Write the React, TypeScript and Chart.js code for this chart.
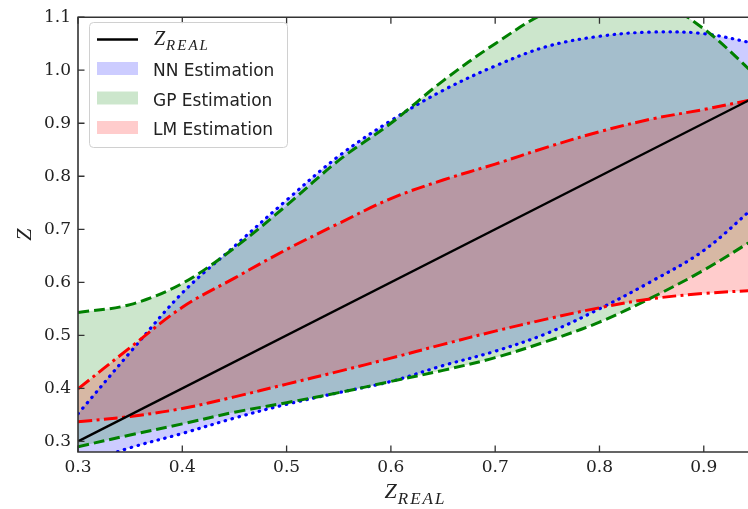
import React, { useEffect, useRef } from "react";
import { Chart, registerables } from "chart.js";

Chart.register(...registerables);

// ---- data ----
const zValues = [0.30, 0.35, 0.40, 0.45, 0.50, 0.55, 0.60, 0.65, 0.70, 0.75, 0.80, 0.85, 0.90, 0.95];

const zRealX = [0.30, 0.95];
const zRealY = [0.30, 0.95];

const nnUpper = [0.352, 0.468, 0.580, 0.668, 0.755, 0.838, 0.905, 0.962, 1.008, 1.045, 1.064, 1.072, 1.069, 1.050];
const nnLower = [0.255, 0.288, 0.315, 0.344, 0.370, 0.392, 0.413, 0.443, 0.470, 0.504, 0.550, 0.602, 0.660, 0.745];

const gpUpper = [0.543, 0.558, 0.598, 0.665, 0.745, 0.830, 0.900, 0.980, 1.050, 1.110, 1.140, 1.135, 1.078, 0.990];
const gpLower = [0.290, 0.312, 0.333, 0.355, 0.373, 0.392, 0.413, 0.434, 0.458, 0.489, 0.525, 0.571, 0.623, 0.683];

const lmUpper = [0.399, 0.477, 0.553, 0.608, 0.662, 0.711, 0.758, 0.793, 0.823, 0.855, 0.884, 0.908, 0.926, 0.946];
const lmLower = [0.337, 0.347, 0.362, 0.384, 0.408, 0.432, 0.457, 0.483, 0.508, 0.531, 0.552, 0.569, 0.579, 0.585];

const xTickValues = [0.3, 0.4, 0.5, 0.6, 0.7, 0.8, 0.9];
const yTickValues = [0.3, 0.4, 0.5, 0.6, 0.7, 0.8, 0.9, 1.0, 1.1];

const xAxisTitleMain = "Z";
const xAxisTitleSub = "REAL";
const yAxisTitle = "Z";
const bandLabels = ["NN Estimation", "GP Estimation", "LM Estimation"];

const X_MIN = 0.3;
const X_MAX = 0.9424;
const Y_MIN = 0.28;
const Y_MAX = 1.1;

const BLUE = "#0000ff";
const GREEN = "#008000";
const RED = "#ff0000";
const BLUE_FILL = "rgba(0,0,255,0.2)";
const GREEN_FILL = "rgba(0,128,0,0.2)";
const RED_FILL = "rgba(255,0,0,0.2)";

const pts = (xs: number[], ys: number[]) => xs.map((x, i) => ({ x, y: ys[i] }));

const decorPlugin = {
  id: "decor",
  afterDraw(chart: any) {
    const { ctx, chartArea: a } = chart;
    const xs = chart.scales.x;
    const ys = chart.scales.y;
    ctx.save();
    // frame
    ctx.strokeStyle = "#333";
    ctx.lineWidth = 1.6;
    ctx.beginPath();
    ctx.moveTo(a.right + 5, a.top);
    ctx.lineTo(a.left, a.top);
    ctx.lineTo(a.left, a.bottom);
    ctx.lineTo(a.right + 5, a.bottom);
    ctx.stroke();
    // inward ticks
    ctx.lineWidth = 1.3;
    ctx.beginPath();
    xTickValues.forEach((v) => {
      const px = xs.getPixelForValue(v);
      ctx.moveTo(px, a.bottom);
      ctx.lineTo(px, a.bottom - 6.5);
      ctx.moveTo(px, a.top);
      ctx.lineTo(px, a.top + 6.5);
    });
    yTickValues.forEach((v) => {
      const py = ys.getPixelForValue(v);
      ctx.moveTo(a.left, py);
      ctx.lineTo(a.left + 6.5, py);
    });
    ctx.stroke();

    // axis titles
    ctx.fillStyle = "#222";
    ctx.textBaseline = "alphabetic";
    const cx = 415;
    ctx.font = "italic 22px 'Liberation Serif'";
    const zW = ctx.measureText(xAxisTitleMain).width;
    ctx.font = "italic 17px 'Liberation Serif'";
    (ctx as any).letterSpacing = "2px";
    const sW = ctx.measureText(xAxisTitleSub).width;
    const startX = cx - (zW + sW) / 2;
    (ctx as any).letterSpacing = "0px";
    ctx.font = "italic 22px 'Liberation Serif'";
    ctx.textAlign = "left";
    ctx.fillText(xAxisTitleMain, startX, 498);
    ctx.font = "italic 17px 'Liberation Serif'";
    (ctx as any).letterSpacing = "2px";
    ctx.fillText(xAxisTitleSub, startX + zW + 1, 504);
    (ctx as any).letterSpacing = "0px";

    ctx.save();
    ctx.translate(25, (a.top + a.bottom) / 2);
    ctx.rotate(-Math.PI / 2);
    ctx.font = "italic 22px 'Liberation Serif'";
    ctx.textAlign = "center";
    ctx.textBaseline = "middle";
    ctx.fillText(yAxisTitle, 0, 0);
    ctx.restore();

    // legend
    const lx = 89.5, ly = 22.5, lw = 198, lh = 125, r = 4;
    ctx.beginPath();
    ctx.moveTo(lx + r, ly);
    ctx.lineTo(lx + lw - r, ly);
    ctx.arcTo(lx + lw, ly, lx + lw, ly + r, r);
    ctx.lineTo(lx + lw, ly + lh - r);
    ctx.arcTo(lx + lw, ly + lh, lx + lw - r, ly + lh, r);
    ctx.lineTo(lx + r, ly + lh);
    ctx.arcTo(lx, ly + lh, lx, ly + lh - r, r);
    ctx.lineTo(lx, ly + r);
    ctx.arcTo(lx, ly, lx + r, ly, r);
    ctx.closePath();
    ctx.fillStyle = "rgba(255,255,255,0.9)";
    ctx.fill();
    ctx.strokeStyle = "#d0d0d0";
    ctx.lineWidth = 1;
    ctx.stroke();

    // Z_REAL entry
    ctx.strokeStyle = "#000";
    ctx.lineWidth = 2.4;
    ctx.beginPath();
    ctx.moveTo(97, 39.5);
    ctx.lineTo(138, 39.5);
    ctx.stroke();
    ctx.fillStyle = "#222";
    ctx.textAlign = "left";
    ctx.textBaseline = "alphabetic";
    ctx.font = "italic 20px 'Liberation Serif'";
    ctx.fillText(xAxisTitleMain, 154, 45);
    const zW2 = ctx.measureText(xAxisTitleMain).width;
    ctx.font = "italic 15px 'Liberation Serif'";
    (ctx as any).letterSpacing = "2px";
    ctx.fillText(xAxisTitleSub, 154 + zW2 + 1, 50);
    (ctx as any).letterSpacing = "0px";

    const fills = [BLUE_FILL, GREEN_FILL, RED_FILL];
    const baselines = [76, 105.5, 135];
    ctx.font = "17px 'DejaVu Sans'";
    bandLabels.forEach((lab, i) => {
      const b = baselines[i];
      ctx.fillStyle = fills[i];
      ctx.fillRect(97, b - 14, 41, 13);
      ctx.fillStyle = "#222";
      ctx.fillText(lab, 153, b);
    });
    ctx.restore();
  },
};

export default function App() {
  const ref = useRef<HTMLCanvasElement | null>(null);

  useEffect(() => {
    if (!ref.current) return;
    const lineBase = {
      pointRadius: 0,
      borderWidth: 3,
      tension: 0.35,
      clip: 0,
    };
    const chart = new Chart(ref.current, {
      type: "line",
      data: {
        datasets: [
          {
            ...lineBase,
            label: "Z_REAL",
            data: pts(zRealX, zRealY),
            borderColor: "#000",
            borderWidth: 2.4,
            tension: 0,
            fill: false,
          },
          {
            ...lineBase,
            label: "LM upper",
            data: pts(zValues, lmUpper),
            borderColor: RED,
            borderDash: [14, 4.5, 3, 4.5],
            backgroundColor: RED_FILL,
            fill: "+1",
          },
          {
            ...lineBase,
            label: "LM lower",
            data: pts(zValues, lmLower),
            borderColor: RED,
            borderDash: [14, 4.5, 3, 4.5],
            fill: false,
          },
          {
            ...lineBase,
            label: "GP upper",
            data: pts(zValues, gpUpper),
            borderColor: GREEN,
            borderDash: [11, 5],
            backgroundColor: GREEN_FILL,
            fill: "+1",
          },
          {
            ...lineBase,
            label: "GP lower",
            data: pts(zValues, gpLower),
            borderColor: GREEN,
            borderDash: [11, 5],
            fill: false,
          },
          {
            ...lineBase,
            label: "NN upper",
            data: pts(zValues, nnUpper),
            borderColor: BLUE,
            borderWidth: 3.2,
            borderDash: [0.5, 6.5],
            borderCapStyle: "round",
            backgroundColor: BLUE_FILL,
            fill: "+1",
          },
          {
            ...lineBase,
            label: "NN lower",
            data: pts(zValues, nnLower),
            borderColor: BLUE,
            borderWidth: 3.2,
            borderDash: [0.5, 6.5],
            borderCapStyle: "round",
            fill: false,
          },
        ],
      },
      options: {
        animation: false,
        responsive: false,
        devicePixelRatio: 1,
        layout: { padding: { top: 13, left: 0, right: 0, bottom: 0 } },
        plugins: {
          legend: { display: false },
          tooltip: { enabled: false },
          filler: { drawTime: "beforeDatasetsDraw" },
        },
        scales: {
          x: {
            type: "linear",
            min: X_MIN,
            max: X_MAX,
            grid: { display: false, drawTicks: false },
            border: { display: false },
            afterBuildTicks: (s: any) => {
              s.ticks = xTickValues.map((v) => ({ value: v }));
            },
            afterFit: (s: any) => {
              s.height = 57;
            },
            ticks: {
              padding: 5,
              color: "#222",
              font: { family: "'DejaVu Serif'", size: 17 },
              maxRotation: 0,
              callback: (v: any) => Number(v).toFixed(1),
            },
          },
          y: {
            type: "linear",
            min: Y_MIN,
            max: Y_MAX,
            grid: { display: false, drawTicks: false },
            border: { display: false },
            afterBuildTicks: (s: any) => {
              s.ticks = yTickValues.map((v) => ({ value: v }));
            },
            afterFit: (s: any) => {
              s.width = 78;
            },
            ticks: {
              padding: 7,
              color: "#222",
              font: { family: "'DejaVu Serif'", size: 17 },
              callback: (v: any) => Number(v).toFixed(1),
            },
          },
        },
      },
      plugins: [decorPlugin],
    });
    return () => chart.destroy();
  }, []);

  return (
    <div style={{ position: "fixed", left: 0, top: 0, width: 748, height: 509, background: "#fff" }}>
      <canvas ref={ref} width={748} height={509} style={{ display: "block" }} />
    </div>
  );
}
